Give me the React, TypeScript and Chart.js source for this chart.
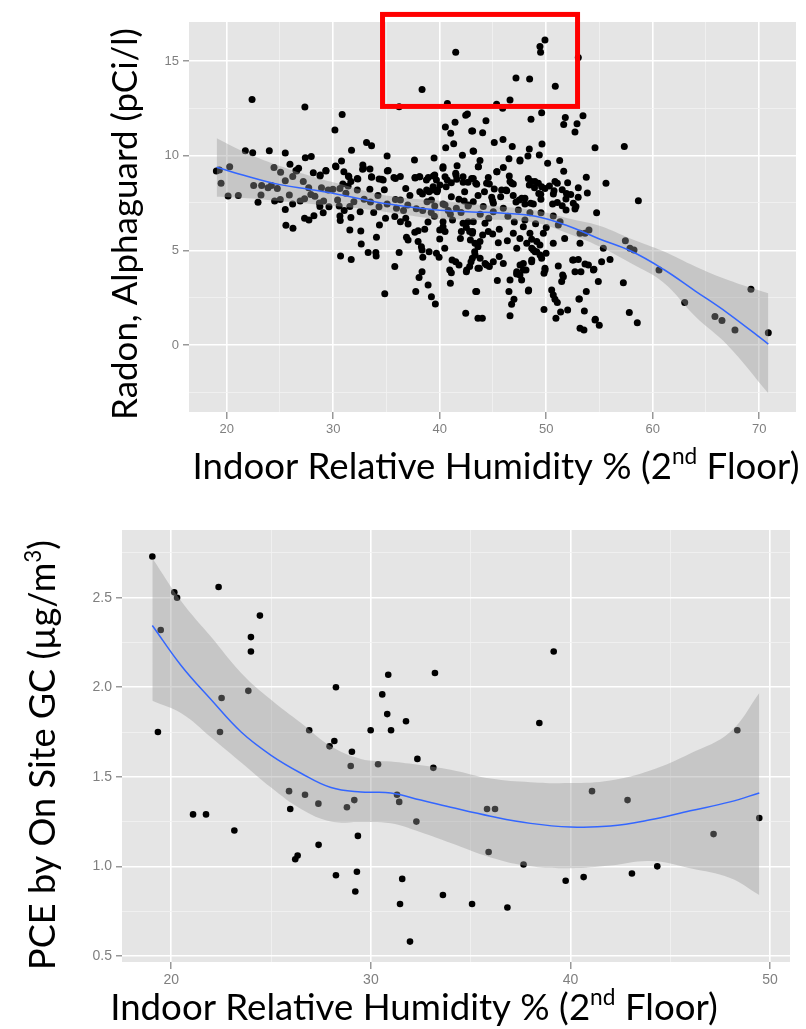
import { useEffect, useRef } from 'react';
import { Chart, registerables } from 'chart.js';

Chart.register(...registerables);

// ---------- Top chart: Radon vs humidity ----------
const radonPoints: [number, number][] = [
  [41.5, 15.46], [38.34, 13.49], [36.19, 12.59], [40.72, 12.76], [22.38, 12.96], [27.34, 12.57], [30.84, 12.18], [30.16, 11.36],
  [41.44, 11.76], [40.53, 11.51], [41.03, 11.18], [42.44, 12.13], [42.6, 12.2], [43.0, 11.3], [40.56, 10.42], [41.31, 10.63],
  [33.13, 10.7], [33.6, 10.53], [31.72, 10.28], [35.06, 9.98], [21.75, 10.26], [22.44, 10.16], [24.0, 10.26], [25.5, 10.14],
  [27.38, 9.89], [27.94, 9.95], [25.94, 9.54], [24.44, 9.38], [20.28, 9.42], [19.03, 9.19], [19.31, 9.24], [19.47, 8.54],
  [20.13, 7.87], [21.09, 7.89], [25.06, 9.12], [26.5, 9.21], [26.75, 9.33], [27.19, 8.63], [27.31, 7.73], [25.5, 8.68],
  [24.75, 8.26], [24.19, 8.43], [23.28, 8.43], [22.53, 8.42], [23.22, 7.92], [23.88, 8.31], [25.03, 7.68], [25.88, 7.92],
  [26.19, 7.45], [25.5, 7.15], [22.94, 7.54], [28.13, 9.1], [28.78, 8.98], [29.31, 9.21], [30.22, 9.45], [30.78, 9.72],
  [31.0, 9.15], [31.47, 8.89], [31.66, 8.63], [32.78, 9.51], [32.84, 9.33], [32.31, 8.77], [33.59, 8.89], [34.31, 8.77],
  [34.69, 8.71], [35.16, 9.21], [35.84, 8.8], [36.81, 8.27], [37.63, 9.77], [37.69, 8.82], [38.13, 8.89], [38.75, 8.71],
  [39.47, 9.88], [39.53, 8.98], [39.69, 8.71], [40.31, 9.42], [40.5, 8.89], [41.09, 8.57], [41.5, 9.07], [41.63, 9.47],
  [42.13, 10.02], [42.19, 8.89], [43.13, 10.25], [43.38, 8.54], [43.63, 9.42], [33.44, 8.22], [30.63, 8.27], [29.53, 8.19],
  [28.28, 7.85], [29.97, 8.22], [30.41, 7.66], [31.19, 8.01], [31.94, 7.57], [31.56, 7.31], [32.53, 7.04], [31.03, 7.1],
  [30.56, 7.34], [30.63, 6.81], [35.84, 7.69], [35.06, 7.45], [35.94, 7.22], [36.31, 7.66], [38.13, 8.1], [38.38, 7.98],
  [39.0, 8.1], [39.38, 8.36], [39.75, 8.1], [39.22, 7.66], [38.81, 7.57], [39.53, 7.34], [40.31, 7.45], [41.09, 7.83],
  [42.34, 8.1], [42.66, 8.59],
  [26.56, 9.19], [28.76, 8.93], [29.32, 9.19], [30.26, 9.42], [31.42, 8.93], [32.26, 8.8], [32.76, 9.28], [33.45, 9.3],
  [33.61, 8.86], [34.55, 8.75], [35.08, 9.19], [35.7, 8.84], [36.3, 8.9], [37.68, 8.84], [38.08, 8.89], [38.93, 8.84],
  [39.4, 8.93], [38.77, 8.19], [39.3, 8.19], [39.8, 8.19], [40.02, 8.45], [32.26, 8.19], [31.4, 8.4], [30.9, 8.5],
  [26.2, 8.9], [27.7, 8.3], [28.9, 8.3], [29.1, 7.6], [27.9, 7.95], [24.5, 7.6], [26.9, 7.6], [28.7, 7.5],
  [29.6, 7.3], [32.9, 7.7], [33.5, 7.55], [34.2, 7.9], [34.8, 8.2], [37.2, 7.9], [37.0, 7.4], [37.8, 7.2],
  [38.4, 7.1], [34.3, 7.3], [33.8, 7.0], [36.6, 7.1],
  [25.56, 6.32], [26.22, 6.16], [27.31, 6.69], [27.72, 6.6], [28.19, 6.83], [28.75, 7.31], [29.06, 6.99], [30.66, 6.57],
  [30.69, 4.7], [31.69, 4.52], [31.56, 6.07], [31.66, 6.73], [32.59, 6.02], [32.63, 5.33], [33.28, 4.88], [34.0, 4.88],
  [34.03, 4.7], [34.06, 5.69], [34.34, 6.34], [34.84, 2.71], [34.91, 6.69], [35.78, 6.78], [35.78, 4.15], [36.19, 4.88],
  [36.31, 6.51], [36.81, 6.69], [37.03, 6.39], [36.88, 5.69], [37.03, 5.55], [37.66, 5.95], [37.97, 6.04], [37.97, 5.46],
  [38.28, 5.19], [38.34, 5.02], [38.59, 6.11], [38.41, 4.63], [38.34, 3.87], [38.06, 3.57], [37.75, 2.82], [38.91, 3.17],
  [39.22, 2.55], [39.59, 2.17], [39.0, 4.93], [39.69, 4.84], [39.94, 4.63], [40.0, 5.6], [40.0, 6.07], [40.31, 6.25],
  [40.5, 5.99], [40.47, 5.11], [40.31, 6.51], [40.94, 3.96], [41.09, 3.82], [41.0, 3.26], [41.16, 4.49], [41.5, 4.4],
  [41.81, 4.23], [41.56, 7.22], [42.03, 5.99], [42.19, 6.43], [41.94, 5.63], [42.66, 6.51], [42.81, 5.99], [42.88, 5.55],
  [43.06, 5.9], [42.5, 3.87], [42.81, 4.14], [43.06, 4.58], [43.28, 4.93], [43.59, 5.19], [43.38, 2.82], [42.44, 1.67],
  [43.59, 1.41], [42.66, 7.34], [43.59, 4.05],
  [49.88, 16.11], [49.41, 15.76], [49.47, 15.46], [53.01, 15.19], [47.16, 14.1], [48.44, 14.05], [50.85, 13.66], [46.6, 12.94],
  [45.34, 12.71], [45.91, 12.5], [49.57, 12.27], [48.57, 11.92], [51.79, 12.02], [51.64, 11.65], [53.45, 12.11], [52.89, 11.69],
  [52.7, 11.25], [44.34, 11.85], [43.09, 11.3], [44.03, 11.21], [45.12, 10.7], [45.94, 10.85], [46.81, 10.48], [48.41, 10.35],
  [49.6, 10.62], [49.35, 10.04], [48.28, 9.98], [43.18, 10.23], [54.58, 10.42], [57.33, 10.48], [43.62, 9.42], [43.78, 9.74],
  [46.5, 9.84], [47.53, 9.72], [45.97, 9.38], [45.38, 9.15], [50.13, 9.6], [51.26, 9.74], [51.64, 9.17], [53.76, 8.86],
  [55.61, 8.54], [43.15, 8.8], [44.56, 8.84], [44.4, 8.54], [43.47, 8.49], [45.12, 8.24], [45.81, 8.19], [46.53, 8.93],
  [46.6, 8.63], [46.91, 8.5], [46.22, 8.19], [45.72, 7.83], [44.97, 7.62], [47.16, 7.55], [47.47, 7.66], [48.0, 7.75],
  [48.32, 8.8], [48.63, 8.63], [48.41, 8.45], [48.94, 8.63], [49.26, 8.54], [49.57, 8.36], [49.88, 8.27], [49.48, 7.96],
  [50.73, 8.15], [50.67, 7.98], [50.82, 8.63], [51.04, 8.54], [52.01, 8.57], [53.01, 8.31], [53.86, 8.03], [51.85, 7.71],
  [51.04, 7.52], [52.54, 7.48], [52.79, 7.31], [58.65, 7.62], [54.73, 6.99], [48.0, 7.45], [48.79, 7.45], [44.09, 7.31],
  [43.15, 7.57],
  [47.54, 9.77], [40.3, 9.33], [40.7, 8.71], [40.6, 8.36], [41.53, 8.98], [41.6, 8.75], [42.2, 8.6], [43.0, 8.8],
  [44.66, 8.5], [45.35, 9.15], [46.76, 8.54], [48.9, 8.3], [49.3, 8.0], [50.3, 8.4], [51.5, 8.2], [51.9, 8.0],
  [52.3, 7.95], [53.0, 7.8], [46.29, 8.15], [44.88, 7.8], [45.04, 7.48], [47.7, 7.75], [48.54, 7.48], [49.5, 7.7],
  [50.6, 7.45], [51.5, 7.35], [42.69, 7.39], [40.5, 7.39], [41.8, 7.7], [42.3, 7.6], [43.6, 7.9], [44.2, 8.1],
  [46.9, 7.9],
  [45.03, 7.04], [45.97, 7.22], [47.38, 7.13], [48.47, 6.99], [49.51, 6.99], [50.66, 6.81], [51.13, 6.34], [43.15, 6.51],
  [44.25, 6.43], [44.56, 5.99], [44.03, 5.81], [43.78, 5.46], [43.31, 5.37], [43.09, 5.99], [45.59, 6.11], [46.35, 5.51],
  [45.5, 5.4], [44.97, 5.86], [46.91, 5.9], [47.85, 6.25], [47.53, 5.63], [48.47, 5.9], [48.63, 5.58], [48.79, 5.02],
  [49.41, 5.28], [49.73, 5.9], [49.98, 4.84], [50.66, 5.37], [51.73, 5.63], [53.17, 5.9], [53.64, 5.9], [54.01, 6.07],
  [53.17, 5.37], [55.36, 5.11], [55.99, 4.52], [55.2, 4.4], [57.43, 5.51], [57.86, 5.11], [58.24, 5.02], [60.59, 3.96],
  [63.0, 2.24], [65.84, 1.5], [66.5, 1.29], [67.72, 0.79], [69.22, 2.94], [70.85, 0.65], [57.24, 3.29], [57.8, 1.71],
  [58.55, 1.18], [54.61, 1.36], [54.98, 1.04], [53.76, 2.82], [53.58, 1.8], [53.17, 0.88], [53.54, 0.79], [53.07, 2.43],
  [54.89, 3.35], [52.48, 4.49], [53.01, 4.52], [53.64, 4.28], [54.48, 4.0], [52.7, 3.87], [53.26, 3.87], [51.54, 3.7],
  [51.45, 3.35], [51.13, 4.17], [52.01, 1.85], [51.35, 1.74], [50.91, 1.41], [49.79, 1.88], [50.51, 2.9], [50.66, 2.64],
  [50.82, 2.41], [51.04, 2.24], [49.79, 3.79], [49.88, 4.05], [49.57, 4.58], [48.63, 4.4], [48.35, 2.9], [47.85, 3.96],
  [47.53, 3.7], [47.69, 3.43], [47.22, 3.75], [46.97, 2.41], [46.75, 2.15], [46.6, 1.55], [46.5, 2.82], [46.6, 3.43],
  [45.41, 3.4], [45.97, 4.31], [45.59, 4.67], [45.03, 4.4], [44.4, 4.23], [43.72, 4.05], [43.47, 2.82], [44.0, 1.41],
  [47.85, 4.31], [49.1, 4.93],
  [42.53, 3.96], [42.94, 4.4], [43.32, 4.75], [43.79, 4.58], [44.26, 4.31], [44.66, 4.14], [47.23, 3.87], [47.54, 4.23],
  [48.1, 3.96], [48.32, 2.85], [48.64, 4.49], [47.23, 5.11], [48.17, 5.37], [48.64, 5.11], [48.95, 4.93], [49.42, 4.75],
  [49.11, 5.46], [49.89, 3.96], [51.61, 3.61], [52.55, 4.49], [53.96, 4.23], [54.43, 3.96], [53.11, 2.43], [54.58, 1.32],
  [52.7, 7.18], [51.86, 7.13], [51.3, 6.51],
  [41.0, 6.9], [42.0, 7.0], [43.8, 6.9], [44.6, 6.7], [46.4, 6.8], [47.0, 6.5], [48.0, 6.6], [49.0, 6.4],
  [50.0, 6.2], [42.5, 6.2], [41.2, 6.6], [39.5, 6.8], [38.9, 6.5], [39.2, 7.0], [40.8, 7.1],
];

const radonFitX = [19.06, 22, 25, 28, 31, 34, 37, 40, 43, 46, 49, 52, 55, 58, 61, 64, 67, 70.85];
const radonFitY = [9.39, 8.9, 8.47, 8.2, 7.9, 7.55, 7.3, 7.12, 7.03, 6.96, 6.8, 6.3, 5.6, 4.95, 4.0, 2.85, 1.7, 0.05];
const radonFitUpper = [10.92, 10.1, 9.45, 8.9, 8.45, 8.0, 7.75, 7.62, 7.45, 7.3, 7.1, 6.7, 6.3, 5.6, 4.95, 4.15, 3.45, 2.73];
const radonFitLower = [7.83, 7.75, 7.6, 7.45, 7.3, 7.1, 6.85, 6.65, 6.6, 6.6, 6.45, 5.9, 5.2, 4.3, 3.3, 1.5, 0.0, -2.55];

const radonXMajor = [20, 30, 40, 50, 60, 70];
const radonXMinor = [25, 35, 45, 55, 65];
const radonYMajor = [0, 5, 10, 15];
const radonYMinor = [-2.5, 2.5, 7.5, 12.5];
const radonXRange = [16.46, 73.45];
const radonYRange = [-3.54, 17.06];
const highlightBox = { xMin: 34.63, xMax: 52.94, yMin: 12.6, yMax: 17.46 };

// ---------- Bottom chart: PCE vs humidity ----------
const pcePoints: [number, number][] = [
  [19.05, 2.73], [19.47, 2.32], [19.33, 1.75], [20.15, 2.53], [20.29, 2.5], [22.37, 2.56], [24.44, 2.4], [23.99, 2.28],
  [23.99, 2.2], [23.86, 1.98], [22.52, 1.94], [22.44, 1.75], [26.91, 1.76], [28.25, 2.0], [28.17, 1.7], [27.93, 1.67],
  [29.05, 1.64], [29.99, 1.76], [30.57, 1.96], [30.87, 2.07], [30.82, 1.85], [31.01, 1.76], [31.76, 1.81], [33.21, 2.08],
  [32.33, 1.6], [39.16, 2.2], [38.44, 1.8], [48.36, 1.76], [28.99, 1.56], [30.36, 1.57], [33.13, 1.55], [25.9, 1.42],
  [26.7, 1.4], [25.96, 1.32], [27.37, 1.35], [28.8, 1.33], [29.17, 1.37], [31.31, 1.4], [31.42, 1.36], [32.28, 1.25],
  [21.09, 1.29], [21.74, 1.29], [23.16, 1.2], [26.21, 1.04], [26.33, 1.06], [27.38, 1.12], [29.35, 1.17], [28.25, 0.95],
  [29.3, 0.97], [29.22, 0.86], [31.57, 0.93], [31.46, 0.79], [31.96, 0.58], [33.61, 0.84], [35.82, 1.32], [36.22, 1.32],
  [35.9, 1.08], [37.65, 1.01], [35.07, 0.79], [36.84, 0.77], [39.76, 0.92], [40.66, 0.94], [41.08, 1.42], [42.86, 1.37],
  [43.08, 0.96], [44.35, 1.0], [47.17, 1.18], [49.46, 1.27],
];

const pceFitX = [19.05, 20.5, 22, 23.5, 25, 26.5, 28, 29.5, 31, 32.5, 34, 36, 38, 40, 42, 44, 46, 48, 49.46];
const pceFitY = [2.345, 2.12, 1.93, 1.75, 1.62, 1.52, 1.44, 1.415, 1.41, 1.37, 1.33, 1.28, 1.24, 1.22, 1.225, 1.26, 1.31, 1.36, 1.41];
const pceFitUpper = [2.72, 2.48, 2.28, 2.08, 1.93, 1.8, 1.67, 1.6, 1.585, 1.565, 1.54, 1.49, 1.47, 1.465, 1.48, 1.535, 1.63, 1.75, 1.968];
const pceFitLower = [1.925, 1.855, 1.72, 1.58, 1.44, 1.32, 1.25, 1.248, 1.24, 1.19, 1.13, 1.05, 1.0, 0.99, 1.005, 1.03, 0.99, 0.935, 0.84];

const pceXMajor = [20, 30, 40, 50];
const pceXMinor = [25, 35, 45];
const pceYMajor = [0.5, 1.0, 1.5, 2.0, 2.5];
const pceYMinor = [0.75, 1.25, 1.75, 2.25, 2.75];
const pceXRange = [17.53, 51.0];
const pceYRange = [0.466, 2.878];

const xTitleRuns = [{ text: 'Indoor Relative Humidity % (2' }, { text: 'nd', sup: true }, { text: ' Floor)' }];
const radonYTitleRuns = [{ text: 'Radon, Alphaguard (pCi/l)' }];
const pceYTitleRuns = [{ text: 'PCE by On Site GC (µg/m' }, { text: '3', sup: true }, { text: ')' }];

// ---------- helpers ----------
type Run = { text: string; sup?: boolean };
type TitleSpec = { runs: Run[]; x: number; y: number; rotate: boolean; width: number };

const TITLE_FONT = 'Lato, "Open Sans", sans-serif';
const TICK_FONT = '"Liberation Sans", Arial, sans-serif';

function drawRuns(ctx: CanvasRenderingContext2D, spec: TitleSpec) {
  const measure = (size: number) => {
    let w = 0;
    for (const r of spec.runs) {
      ctx.font = `${r.sup ? size * 0.62 : size}px ${TITLE_FONT}`;
      w += ctx.measureText(r.text).width;
    }
    return w;
  };
  const base = 30;
  const size = (base * spec.width) / measure(base);
  const total = measure(size);
  ctx.save();
  ctx.translate(spec.x, spec.y);
  if (spec.rotate) ctx.rotate(-Math.PI / 2);
  ctx.fillStyle = '#000';
  ctx.textBaseline = 'alphabetic';
  ctx.textAlign = 'left';
  let cx = -total / 2;
  for (const r of spec.runs) {
    const fs = r.sup ? size * 0.62 : size;
    ctx.font = `${fs}px ${TITLE_FONT}`;
    ctx.fillText(r.text, cx, r.sup ? -size * 0.4 : 0);
    cx += ctx.measureText(r.text).width;
  }
  ctx.restore();
}

function makeAxis(range: number[], major: number[], minor: number[], decimals: number, fontSize: number, tickLen: number, pad: number, fit: (s: any) => void) {
  const isMajor = (v: number) => major.some((m) => Math.abs(m - v) < 1e-6);
  return {
    type: 'linear' as const,
    min: range[0],
    max: range[1],
    afterBuildTicks: (scale: any) => {
      scale.ticks = [...major, ...minor].sort((a, b) => a - b).map((v) => ({ value: v }));
    },
    afterFit: fit,
    border: { display: false },
    grid: {
      color: (c: any) => (isMajor(c.tick.value) ? '#FFFFFF' : '#F2F2F2'),
      lineWidth: (c: any) => (isMajor(c.tick.value) ? 1.6 : 0.8),
      tickColor: (c: any) => (isMajor(c.tick.value) ? '#7F7F7F' : 'rgba(0,0,0,0)'),
      tickLength: tickLen,
      tickWidth: 1.2,
    },
    ticks: {
      autoSkip: false,
      maxRotation: 0,
      padding: pad,
      color: '#7F7F7F',
      font: { family: TICK_FONT, size: fontSize },
      callback: (v: any) => (isMajor(Number(v)) ? Number(v).toFixed(decimals) : ''),
    },
  };
}

function buildConfig(opts: {
  points: [number, number][];
  fitX: number[]; fitY: number[]; fitU: number[]; fitL: number[];
  xRange: number[]; yRange: number[];
  xMajor: number[]; xMinor: number[]; yMajor: number[]; yMinor: number[];
  yDecimals: number;
  yAxisWidth: number; xAxisHeight: number; padRight: number; padTop: number;
  tickFont: number; pointRadius: number;
  titles: TitleSpec[];
  box?: typeof highlightBox;
}) {
  const bg = {
    id: 'panelBg',
    beforeDraw(chart: any) {
      const a = chart.chartArea;
      const c = chart.ctx;
      c.save();
      c.fillStyle = '#E5E5E5';
      c.fillRect(a.left, a.top, a.right - a.left, a.bottom - a.top);
      c.restore();
    },
  };
  const titles = {
    id: 'titles',
    afterDraw(chart: any) {
      const c = chart.ctx;
      for (const t of opts.titles) drawRuns(c, t);
      if (opts.box) {
        const xs = chart.scales.x;
        const ys = chart.scales.y;
        const l = xs.getPixelForValue(opts.box.xMin);
        const r = xs.getPixelForValue(opts.box.xMax);
        const t = ys.getPixelForValue(opts.box.yMax);
        const b = ys.getPixelForValue(opts.box.yMin);
        c.save();
        c.strokeStyle = '#FF0000';
        c.lineWidth = 5;
        c.strokeRect(l, t, r - l, b - t);
        c.restore();
      }
    },
  };
  const pts = (ys: number[]) => opts.fitX.map((x, i) => ({ x, y: ys[i] }));
  return {
    type: 'scatter' as const,
    data: {
      datasets: [
        { data: pts(opts.fitY), showLine: true, borderColor: '#3366FF', borderWidth: 1.5, pointRadius: 0, tension: 0.4, fill: false, order: 0 },
        { data: pts(opts.fitU), showLine: true, borderColor: 'rgba(0,0,0,0)', borderWidth: 0, backgroundColor: 'rgba(153,153,153,0.4)', pointRadius: 0, tension: 0.4, fill: '+1', order: 1 },
        { data: pts(opts.fitL), showLine: true, borderColor: 'rgba(0,0,0,0)', borderWidth: 0, pointRadius: 0, tension: 0.4, fill: false, order: 2 },
        { data: opts.points.map(([x, y]) => ({ x, y })), pointRadius: opts.pointRadius, pointBackgroundColor: '#000000', pointBorderWidth: 0, borderWidth: 0, showLine: false, order: 3 },
      ],
    },
    options: {
      animation: false as const,
      responsive: false,
      maintainAspectRatio: false,
      events: [],
      layout: { padding: { left: 0, right: opts.padRight, top: opts.padTop, bottom: 0 } },
      plugins: { legend: { display: false }, tooltip: { enabled: false } },
      scales: {
        x: makeAxis(opts.xRange, opts.xMajor, opts.xMinor, 0, opts.tickFont, 7, 3, (s: any) => { s.height = opts.xAxisHeight; }),
        y: makeAxis(opts.yRange, opts.yMajor, opts.yMinor, opts.yDecimals, opts.tickFont, 6, 4, (s: any) => { s.width = opts.yAxisWidth; }),
      },
    },
    plugins: [bg, titles],
  };
}

export default function App() {
  const topRef = useRef<HTMLCanvasElement>(null);
  const botRef = useRef<HTMLCanvasElement>(null);

  useEffect(() => {
    const top = new Chart(topRef.current!, buildConfig({
      points: radonPoints,
      fitX: radonFitX, fitY: radonFitY, fitU: radonFitUpper, fitL: radonFitLower,
      xRange: radonXRange, yRange: radonYRange,
      xMajor: radonXMajor, xMinor: radonXMinor, yMajor: radonYMajor, yMinor: radonYMinor,
      yDecimals: 0,
      yAxisWidth: 189, xAxisHeight: 88, padRight: 10, padTop: 22,
      tickFont: 13, pointRadius: 3.5,
      titles: [
        { runs: xTitleRuns, x: 496, y: 479, rotate: false, width: 607 },
        { runs: radonYTitleRuns, x: 137, y: 224, rotate: true, width: 392 },
      ],
      box: highlightBox,
    }) as any);
    const bot = new Chart(botRef.current!, buildConfig({
      points: pcePoints,
      fitX: pceFitX, fitY: pceFitY, fitU: pceFitUpper, fitL: pceFitLower,
      xRange: pceXRange, yRange: pceYRange,
      xMajor: pceXMajor, xMinor: pceXMinor, yMajor: pceYMajor, yMinor: pceYMinor,
      yDecimals: 1,
      yAxisWidth: 122, xAxisHeight: 67, padRight: 16, padTop: 30,
      tickFont: 14, pointRadius: 3.3,
      titles: [
        { runs: xTitleRuns, x: 414, y: 520, rotate: false, width: 608 },
        { runs: pceYTitleRuns, x: 55, y: 255, rotate: true, width: 430 },
      ],
    }) as any);
    return () => { top.destroy(); bot.destroy(); };
  }, []);

  return (
    <div style={{ position: 'absolute', left: 0, top: 0, width: 806, height: 1029, background: '#fff' }}>
      <canvas ref={topRef} width={806} height={500} style={{ position: 'absolute', left: 0, top: 0, display: 'block' }} />
      <canvas ref={botRef} width={806} height={529} style={{ position: 'absolute', left: 0, top: 500, display: 'block' }} />
    </div>
  );
}
